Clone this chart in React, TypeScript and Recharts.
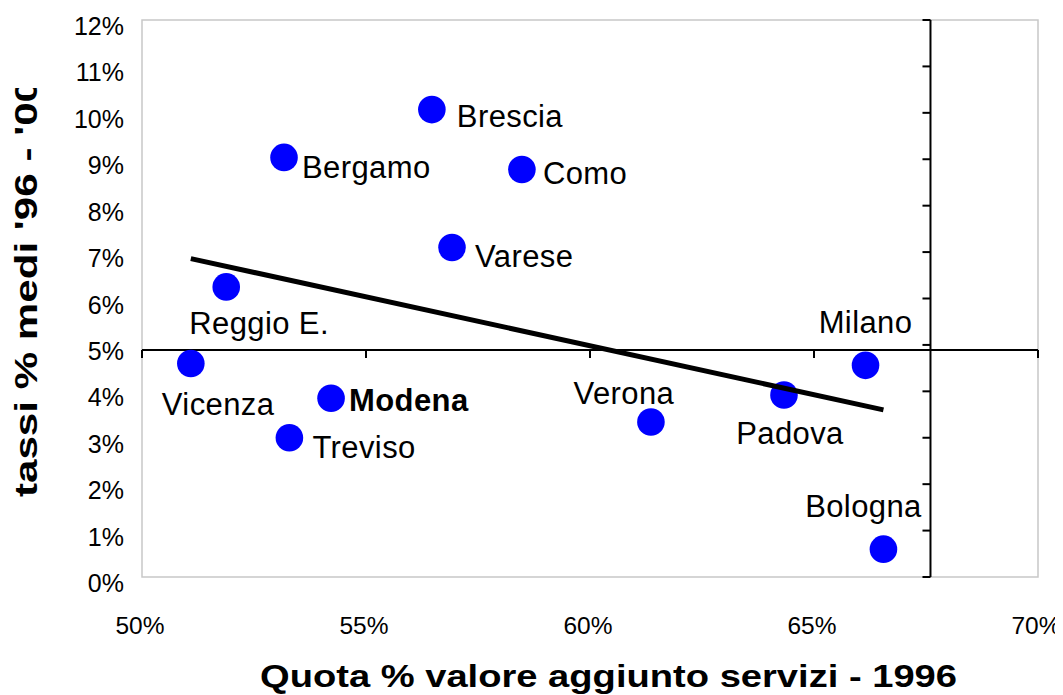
import React from 'react';
import { ScatterChart, Scatter, XAxis, YAxis, ReferenceLine, ReferenceDot, ReferenceArea } from 'recharts';

// ---- data ----
const cities = ['Brescia', 'Bergamo', 'Como', 'Varese', 'Reggio E.', 'Vicenza', 'Modena', 'Treviso', 'Verona', 'Padova', 'Milano', 'Bologna'];
const servicesShare1996 = [56.47, 53.17, 58.48, 56.92, 51.88, 51.09, 54.22, 53.29, 61.36, 64.33, 66.15, 66.55];
const avgGrowth9600 = [10.07, 9.04, 8.78, 7.1, 6.25, 4.6, 3.85, 3.0, 3.34, 3.92, 4.56, 0.6];
const trendX = [51.09, 66.55];
const trendY = [6.86, 3.6];
const xTicks = [50, 55, 60, 65, 70];
const yTicks = [0, 1, 2, 3, 4, 5, 6, 7, 8, 9, 10, 11, 12];
const xAxisCrossesAt = 4.89; // y value of the horizontal axis line
const yAxisCrossesAt = 67.6; // x value of the vertical axis line
const highlighted = 'Modena';

// ---- label placement (layout only) ----
const labelPlacement: Record<string, { anchor: 'start' | 'middle' | 'end'; dx: number; dy: number }> = {
  'Brescia': { anchor: 'start', dx: 25, dy: 17 },
  'Bergamo': { anchor: 'start', dx: 18, dy: 21 },
  'Como': { anchor: 'start', dx: 21, dy: 15 },
  'Varese': { anchor: 'start', dx: 23, dy: 20 },
  'Reggio E.': { anchor: 'start', dx: -37, dy: 47 },
  'Vicenza': { anchor: 'start', dx: -29, dy: 52 },
  'Modena': { anchor: 'start', dx: 18, dy: 13 },
  'Treviso': { anchor: 'start', dx: 23, dy: 20 },
  'Verona': { anchor: 'middle', dx: -27, dy: -18 },
  'Padova': { anchor: 'middle', dx: 6, dy: 49 },
  'Milano': { anchor: 'middle', dx: 0, dy: -32 },
  'Bologna': { anchor: 'middle', dx: -20, dy: -32 },
};

const points = cities.map((name, i) => ({ name, x: servicesShare1996[i], y: avgGrowth9600[i] }));
const trend = trendX.map((x, i) => ({ x, y: trendY[i] }));

const FONT = '"Liberation Sans", Arial, Helvetica, sans-serif';

const CityDot = (props: any) => {
  const { cx, cy, payload } = props;
  const p = labelPlacement[payload.name];
  return (
    <g>
      <circle cx={cx} cy={cy} r={13.8} fill="#0000FF" />
      <text
        x={cx + p.dx}
        y={cy + p.dy}
        textAnchor={p.anchor}
        fontFamily={FONT}
        fontSize={31}
        letterSpacing={0.4}
        fontWeight={payload.name === highlighted ? 'bold' : 'normal'}
        fill="#000"
      >
        {payload.name}
      </text>
    </g>
  );
};

const XTick = (props: any) => {
  const { x, y, payload } = props;
  return (
    <text x={x - 2} y={y + 49} textAnchor="middle" fontFamily={FONT} fontSize={24.5} fill="#000">
      {`${payload.value}%`}
    </text>
  );
};

const YTick = (props: any) => {
  const { x, y, payload } = props;
  return (
    <text x={x - 10} y={y + 15} textAnchor="end" fontFamily={FONT} fontSize={25} fill="#000">
      {`${payload.value}%`}
    </text>
  );
};

const XTitle = () => (
  <text x={252} y={679} fontFamily={FONT} fontSize={30.5} fontWeight="bold" fill="#000" textLength={697} lengthAdjust="spacingAndGlyphs">
    Quota % valore aggiunto servizi - 1996
  </text>
);

const YTitle = () => (
  <g>
    <defs>
      <clipPath id="ytitle-clip">
        <rect x={0} y={80} width={60} height={500} />
      </clipPath>
    </defs>
    <g clipPath="url(#ytitle-clip)">
      <text
        x={29}
        y={489}
        transform="rotate(-90, 29, 489)"
        fontFamily={FONT}
        fontSize={32}
        fontWeight="bold"
        fill="#000"
        textLength={418}
        lengthAdjust="spacingAndGlyphs"
      >
        tassi % medi '96 - '00
      </text>
    </g>
  </g>
);

const downTick = (props: any) => (
  <line x1={props.cx} y1={props.cy} x2={props.cx} y2={props.cy + 8} stroke="#000" strokeWidth={2} />
);
const leftTick = (props: any) => (
  <line x1={props.cx - 8} y1={props.cy} x2={props.cx} y2={props.cy} stroke="#000" strokeWidth={2} />
);

export default function App() {
  return (
    <div style={{ width: 1055, height: 687 }}>
      <style>{`.recharts-surface{overflow:visible}`}</style>
      <ScatterChart width={1055} height={687} margin={{ top: 12, right: 25, bottom: 58, left: 0 }}>
        <XAxis
          type="number"
          dataKey="x"
          domain={[50, 70]}
          ticks={xTicks}
          axisLine={false}
          tickLine={false}
          tick={<XTick />}
          height={60}
          interval={0}
          label={{ content: () => <XTitle /> }}
        />
        <YAxis
          type="number"
          dataKey="y"
          domain={[0, 12]}
          ticks={yTicks}
          axisLine={false}
          tickLine={false}
          tick={<YTick />}
          width={134}
          interval={0}
          label={{ content: () => <YTitle /> }}
        />
        <ReferenceArea x1={50} x2={70} y1={0} y2={12} fill="none" stroke="#C8C8C8" strokeWidth={1.5} />
        <ReferenceLine y={xAxisCrossesAt} stroke="#000" strokeWidth={2} />
        <ReferenceLine x={yAxisCrossesAt} stroke="#000" strokeWidth={2} />
        {xTicks.map((t) => (
          <ReferenceDot key={`xt${t}`} x={t} y={xAxisCrossesAt} r={0} shape={downTick} />
        ))}
        {yTicks.map((t) => (
          <ReferenceDot key={`yt${t}`} x={yAxisCrossesAt} y={t} r={0} shape={leftTick} />
        ))}
        <Scatter data={points} shape={<CityDot />} isAnimationActive={false} />
        <Scatter data={trend} line={{ stroke: '#000', strokeWidth: 5 }} shape={() => <g />} isAnimationActive={false} />
      </ScatterChart>
    </div>
  );
}
